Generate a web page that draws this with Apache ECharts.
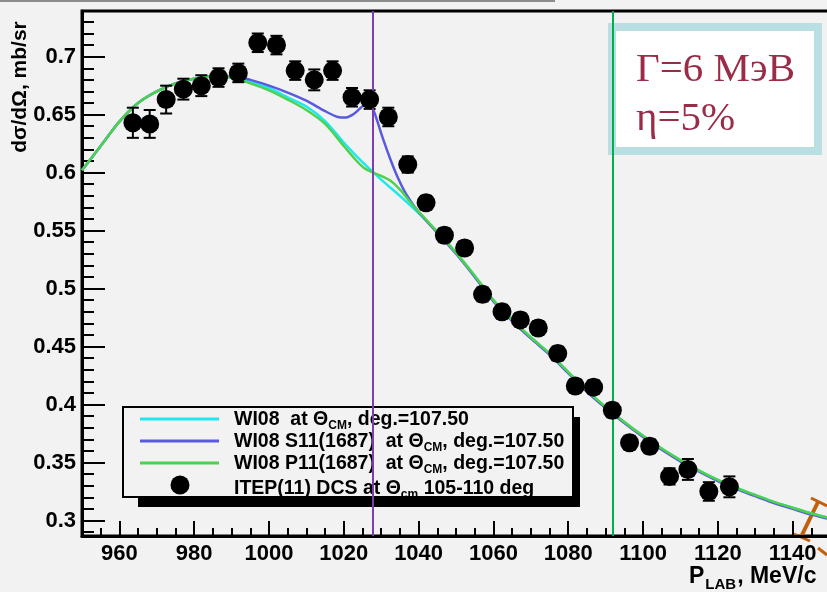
<!DOCTYPE html>
<html>
<head>
<meta charset="utf-8">
<script src="https://cdn.jsdelivr.net/npm/echarts@6/dist/echarts.min.js"></script>
<style>
  html, body { margin: 0; padding: 0; background: #f2f2f2; }
  #chart { width: 827px; height: 592px; }
</style>
</head>
<body>
<div id="chart"></div>
<script>
// ITEP(11) differential cross section, Theta_cm 105-110 deg
const pLab = [963.6, 968.1, 972.5, 977.1, 981.9, 986.5, 991.8, 997.0, 1002.0, 1007.0,
  1012.1, 1017.0, 1022.2, 1026.9, 1031.9, 1037.1, 1042.0, 1046.9, 1052.3, 1057.1,
  1062.3, 1067.2, 1072.0, 1077.2, 1081.9, 1086.8, 1091.8, 1096.4, 1101.8, 1107.1,
  1112.0, 1117.6, 1123.1];
const dcs = [0.643, 0.642, 0.663, 0.672, 0.675, 0.682, 0.686, 0.712, 0.710, 0.688,
  0.680, 0.688, 0.665, 0.663, 0.648, 0.607, 0.574, 0.546, 0.535, 0.495,
  0.480, 0.473, 0.466, 0.444, 0.416, 0.415, 0.395, 0.367, 0.364, 0.338,
  0.344, 0.325, 0.329];
const dcsErr = [0.013, 0.012, 0.012, 0.009, 0.009, 0.008, 0.008, 0.008, 0.008, 0.008,
  0.009, 0.008, 0.008, 0.008, 0.008, 0.007, 0.006, 0.006, 0.006, 0.006,
  0.006, 0.006, 0.006, 0.006, 0.006, 0.006, 0.006, 0.006, 0.006, 0.007,
  0.009, 0.008, 0.009];

// WI08 partial-wave solution
const wi08X = [950, 955, 960, 965, 970, 975, 980, 985, 990, 995, 1000, 1005, 1010, 1015,
  1020, 1025, 1030, 1035, 1040, 1045, 1050, 1055, 1060, 1065, 1070, 1075, 1080, 1085,
  1090, 1095, 1100, 1105, 1110, 1115, 1120, 1125, 1130, 1135, 1140, 1145, 1150, 1155, 1160];
const wi08Y = [0.602, 0.623, 0.644, 0.660, 0.670, 0.677, 0.681, 0.683, 0.682, 0.678, 0.673,
  0.665, 0.657, 0.6445, 0.626, 0.609, 0.594, 0.580, 0.565, 0.549, 0.531, 0.511, 0.490,
  0.473, 0.458, 0.444, 0.428, 0.412, 0.398, 0.385, 0.373, 0.362, 0.352, 0.343, 0.335,
  0.328, 0.322, 0.316, 0.311, 0.306, 0.302, 0.298, 0.295];

// WI08 + narrow S11(1687)
const s11X = [950, 955, 960, 965, 970, 975, 980, 985, 990, 995, 1000, 1005, 1010, 1015,
  1018.4, 1020.4, 1022.4, 1024.4, 1025.9, 1026.9, 1027.9, 1028.9, 1030.4, 1032.4, 1034.4,
  1036.4, 1038.4, 1040.4, 1045, 1050, 1055, 1060, 1065, 1070, 1075, 1080, 1085, 1090, 1095,
  1100, 1105, 1110, 1115, 1120, 1125, 1130, 1135, 1140, 1145, 1150, 1155, 1160];
const s11Y = [0.602, 0.623, 0.644, 0.660, 0.670, 0.677, 0.681, 0.683, 0.683, 0.680, 0.675,
  0.669, 0.662, 0.653, 0.648, 0.6475, 0.650, 0.6555, 0.659, 0.659, 0.654, 0.645, 0.630,
  0.612, 0.596, 0.583, 0.573, 0.5645, 0.548, 0.530, 0.510, 0.489, 0.472, 0.457, 0.443,
  0.427, 0.411, 0.397, 0.384, 0.372, 0.361, 0.351, 0.342, 0.334, 0.327, 0.321, 0.315,
  0.310, 0.305, 0.301, 0.297, 0.294];

// WI08 + narrow P11(1687)
const p11X = [950, 955, 960, 965, 970, 975, 980, 985, 990, 995, 1000, 1005, 1010, 1015,
  1020, 1022.9, 1025.4, 1027.9, 1030.4, 1032.9, 1035.4, 1037.9, 1040.4, 1045, 1050, 1055,
  1060, 1065, 1070, 1075, 1080, 1085, 1090, 1095, 1100, 1105, 1110, 1115, 1120, 1125, 1130,
  1135, 1140, 1145, 1150, 1155, 1160];
const p11Y = [0.602, 0.623, 0.644, 0.660, 0.670, 0.677, 0.681, 0.683, 0.682, 0.677, 0.671,
  0.663, 0.654, 0.642, 0.623, 0.612, 0.604, 0.600, 0.5965, 0.592, 0.584, 0.574, 0.565,
  0.549, 0.531, 0.511, 0.490, 0.473, 0.458, 0.444, 0.428, 0.412, 0.398, 0.385, 0.373,
  0.362, 0.352, 0.343, 0.335, 0.328, 0.322, 0.316, 0.311, 0.306, 0.302, 0.298, 0.295];

// Marked energies (vertical guides)
const guideP = [1027.7, 1091.9];

const xTickMajor = 20, xTickMinor = 5;
const yTickMajor = 0.05, yTickMinor = 0.01;

const COL_WI08 = '#20e6ee';
const COL_S11 = '#5a5ae0';
const COL_P11 = '#4ed24e';
const COL_GUIDE = ['#7d3cb5', '#00b050'];
const FONT = 'Liberation Sans, Arial, sans-serif';

// Frame geometry of the plot (pixels) and axis ranges
const X0 = 950, X1 = 1160, Y0 = 0.2866, Y1 = 0.7394;
const L = 82, T = 11, B = 536, PX_PER_X = 3.74;
const R = L + (X1 - X0) * PX_PER_X;
const PX_PER_Y = (B - T) / (Y1 - Y0);
const xPix = v => L + (v - X0) * PX_PER_X;
const yPix = v => T + (Y1 - v) * PX_PER_Y;

const zip = (xs, ys) => xs.map((x, i) => [x, ys[i]]);

const chart = echarts.init(document.getElementById('chart'));

const tickStyle = { color: '#000', width: 2 };
const gridBase = { outerBoundsMode: 'none', containLabel: false };

const option = {
  animation: false,
  backgroundColor: '#f2f2f2',
  grid: [
    Object.assign({ left: L, top: T, width: R - L, height: B - T, show: true, backgroundColor: '#f2f2f2',
      borderColor: '#000', borderWidth: 3 }, gridBase),
    Object.assign({ left: xPix(960), top: T, width: xPix(1160) - xPix(960), height: B - T }, gridBase),
    Object.assign({ left: L, top: yPix(0.7), width: R - L, height: yPix(0.3) - yPix(0.7) }, gridBase),
    Object.assign({ left: L, top: yPix(0.73), width: R - L, height: yPix(0.29) - yPix(0.73) }, gridBase)
  ],
  xAxis: [
    { gridIndex: 0, type: 'value', min: X0, max: X1, position: 'bottom',
      axisLine: { show: true, lineStyle: { color: '#000', width: 3 } },
      axisTick: { show: false }, axisLabel: { show: false }, splitLine: { show: false } },
    { gridIndex: 0, type: 'value', min: X0, max: X1, interval: xTickMinor, position: 'bottom',
      axisLine: { show: false },
      axisTick: { show: true, inside: true, length: 8, lineStyle: tickStyle },
      axisLabel: { show: false }, splitLine: { show: false } },
    { gridIndex: 1, type: 'value', min: 960, max: 1160, interval: xTickMajor, position: 'bottom',
      axisLine: { show: false },
      axisTick: { show: true, inside: true, length: 15, lineStyle: tickStyle },
      axisLabel: { show: true, margin: 7, color: '#000', fontSize: 22, fontWeight: 'bold',
        fontFamily: FONT, formatter: v => String(v) },
      splitLine: { show: false } },
    { gridIndex: 2, type: 'value', min: X0, max: X1, show: false },
    { gridIndex: 3, type: 'value', min: X0, max: X1, show: false }
  ],
  yAxis: [
    { gridIndex: 0, type: 'value', min: Y0, max: Y1,
      axisLine: { show: true, lineStyle: { color: '#000', width: 3 } },
      axisTick: { show: false }, axisLabel: { show: false }, splitLine: { show: false } },
    { gridIndex: 1, type: 'value', min: 0, max: 1, show: false },
    { gridIndex: 2, type: 'value', min: 0.3, max: 0.7, interval: yTickMajor,
      axisLine: { show: false },
      axisTick: { show: true, inside: true, length: 23, lineStyle: tickStyle },
      axisLabel: { show: true, margin: 6, color: '#000', fontSize: 22, fontWeight: 'bold',
        fontFamily: FONT, formatter: v => String(Math.round(v * 100) / 100) },
      splitLine: { show: false } },
    { gridIndex: 3, type: 'value', min: 0.29, max: 0.73, interval: yTickMinor,
      axisLine: { show: false },
      axisTick: { show: true, inside: true, length: 12, lineStyle: tickStyle },
      axisLabel: { show: false }, splitLine: { show: false } }
  ],
  series: [
    {
      name: 'WI08', type: 'line', xAxisIndex: 0, yAxisIndex: 0, z: 3,
      data: zip(wi08X, wi08Y), symbol: 'none', smooth: 0.3,
      lineStyle: { color: COL_WI08, width: 2.5 },
      markLine: {
        silent: true, symbol: ['none', 'none'], label: { show: false },
        data: guideP.map((p, i) => ({ xAxis: p, lineStyle: { color: COL_GUIDE[i], width: 2, type: 'solid' } }))
      }
    },
    {
      name: 'WI08 S11(1687)', type: 'line', xAxisIndex: 0, yAxisIndex: 0, z: 3,
      data: zip(s11X, s11Y), symbol: 'none', smooth: 0.3,
      lineStyle: { color: COL_S11, width: 2.5 }
    },
    {
      name: 'WI08 P11(1687)', type: 'line', xAxisIndex: 0, yAxisIndex: 0, z: 3,
      data: zip(p11X, p11Y), symbol: 'none', smooth: 0.3,
      lineStyle: { color: COL_P11, width: 2.5 }
    },
    {
      name: 'errors', type: 'custom', xAxisIndex: 0, yAxisIndex: 0, z: 4,
      data: pLab.map((p, i) => [p, dcs[i] - dcsErr[i], dcs[i] + dcsErr[i]]),
      renderItem: (params, api) => {
        const lo = api.coord([api.value(0), api.value(1)]);
        const hi = api.coord([api.value(0), api.value(2)]);
        const w = 6, st = { stroke: '#000', lineWidth: 2 };
        return {
          type: 'group',
          children: [
            { type: 'line', shape: { x1: lo[0], y1: lo[1], x2: hi[0], y2: hi[1] }, style: st },
            { type: 'line', shape: { x1: lo[0] - w, y1: lo[1], x2: lo[0] + w, y2: lo[1] }, style: st },
            { type: 'line', shape: { x1: hi[0] - w, y1: hi[1], x2: hi[0] + w, y2: hi[1] }, style: st }
          ]
        };
      }
    },
    {
      name: 'ITEP(11)', type: 'scatter', xAxisIndex: 0, yAxisIndex: 0, z: 5,
      data: zip(pLab, dcs), symbol: 'circle', symbolSize: 19,
      itemStyle: { color: '#000', opacity: 1 }
    }
  ],
  graphic: [
    // thin rule along the very top
    { type: 'line', z: 1, shape: { x1: 0, y1: 1, x2: 555, y2: 1 }, style: { stroke: '#8c8c8c', lineWidth: 2 } },
    // axis titles
    { type: 'text', z: 1, x: 20, y: 87, rotation: Math.PI / 2,
      style: { text: 'dσ/dΩ, mb/sr', font: 'bold 21px ' + FONT, fill: '#000', align: 'center', verticalAlign: 'middle' } },
    { type: 'text', z: 1, x: 689, y: 577,
      style: { text: 'P{s|LAB}, MeV/c', font: 'bold 23px ' + FONT, fill: '#000', verticalAlign: 'middle',
        rich: { s: { fontSize: 15, fontWeight: 'bold', fontFamily: FONT, padding: [16, 1, 0, 1] } } } },
    // legend box
    {
      type: 'group', z: 1,
      children: [
        { type: 'rect', z2: 0, shape: { x: 138, y: 417, width: 442, height: 90 }, style: { fill: '#000' } },
        { type: 'rect', z2: 1, shape: { x: 123, y: 407, width: 450, height: 90 }, style: { fill: '#f2f2f2' } },
        { type: 'line', z2: 2, shape: { x1: 140, y1: 419, x2: 219, y2: 419 }, style: { stroke: COL_WI08, lineWidth: 3 } },
        { type: 'line', z2: 2, shape: { x1: 140, y1: 441, x2: 219, y2: 441 }, style: { stroke: COL_S11, lineWidth: 3 } },
        { type: 'line', z2: 2, shape: { x1: 140, y1: 463, x2: 219, y2: 463 }, style: { stroke: COL_P11, lineWidth: 3 } },
        { type: 'circle', z2: 2, shape: { cx: 180, cy: 485, r: 9.5 }, style: { fill: '#000' } },
        { type: 'text', z2: 2, x: 234, y: 420,
          style: { text: 'WI08  at Θ{s|CM}, deg.=107.50', font: 'bold 19.5px ' + FONT, fill: '#000', verticalAlign: 'middle',
            rich: { s: { fontSize: 12, fontWeight: 'bold', fontFamily: FONT, padding: [12, 0, 0, 0] } } } },
        { type: 'text', z2: 2, x: 234, y: 442,
          style: { text: 'WI08 S11(1687)  at Θ{s|CM}, deg.=107.50', font: 'bold 19.5px ' + FONT, fill: '#000', verticalAlign: 'middle',
            rich: { s: { fontSize: 12, fontWeight: 'bold', fontFamily: FONT, padding: [12, 0, 0, 0] } } } },
        { type: 'text', z2: 2, x: 234, y: 464,
          style: { text: 'WI08 P11(1687)  at Θ{s|CM}, deg.=107.50', font: 'bold 19.5px ' + FONT, fill: '#000', verticalAlign: 'middle',
            rich: { s: { fontSize: 12, fontWeight: 'bold', fontFamily: FONT, padding: [12, 0, 0, 0] } } } },
        { type: 'text', z2: 2, x: 234, y: 489,
          style: { text: 'ITEP(11) DCS at Θ{s|cm} 105-110 deg', font: 'bold 19.5px ' + FONT, fill: '#000', verticalAlign: 'middle',
            rich: { s: { fontSize: 12, fontWeight: 'bold', fontFamily: FONT, padding: [12, 0, 0, 0] } } } },
        { type: 'rect', z2: 3, shape: { x: 123, y: 407, width: 450, height: 90 }, style: { fill: null, stroke: '#000', lineWidth: 2 } },
        { type: 'rect', z2: 3, shape: { x: 138, y: 498, width: 442, height: 9 }, style: { fill: '#000' } },
        { type: 'rect', z2: 3, shape: { x: 123, y: 507, width: 460, height: 8 }, style: { fill: '#f2f2f2' } }
      ]
    },
    // parameter box
    { type: 'rect', z: 1, shape: { x: 612, y: 27, width: 206, height: 124 },
      style: { fill: '#ffffff', stroke: '#b9dfe2', lineWidth: 8 } },
    { type: 'text', z: 1, x: 636, y: 70,
      style: { text: 'Γ=6 МэВ', font: '41px Liberation Serif, Times New Roman, serif', fill: '#9a2c48', verticalAlign: 'middle' } },
    { type: 'text', z: 1, x: 636, y: 119,
      style: { text: 'η=5%', font: '41px Liberation Serif, Times New Roman, serif', fill: '#9a2c48', verticalAlign: 'middle' } },
    // orange bracket fragment at the lower right corner
    { type: 'group', z: 6, children: [
      { type: 'line', shape: { x1: 818, y1: 502, x2: 801, y2: 537 }, style: { stroke: '#c0600c', lineWidth: 4 } },
      { type: 'line', shape: { x1: 811, y1: 498, x2: 827, y2: 506 }, style: { stroke: '#c0600c', lineWidth: 3 } },
      { type: 'line', shape: { x1: 794, y1: 534, x2: 810, y2: 541 }, style: { stroke: '#c0600c', lineWidth: 3 } },
      { type: 'line', shape: { x1: 818, y1: 548, x2: 827, y2: 555 }, style: { stroke: '#c0600c', lineWidth: 3 } }
    ] }
  ]
};

chart.setOption(option);
</script>
</body>
</html>
